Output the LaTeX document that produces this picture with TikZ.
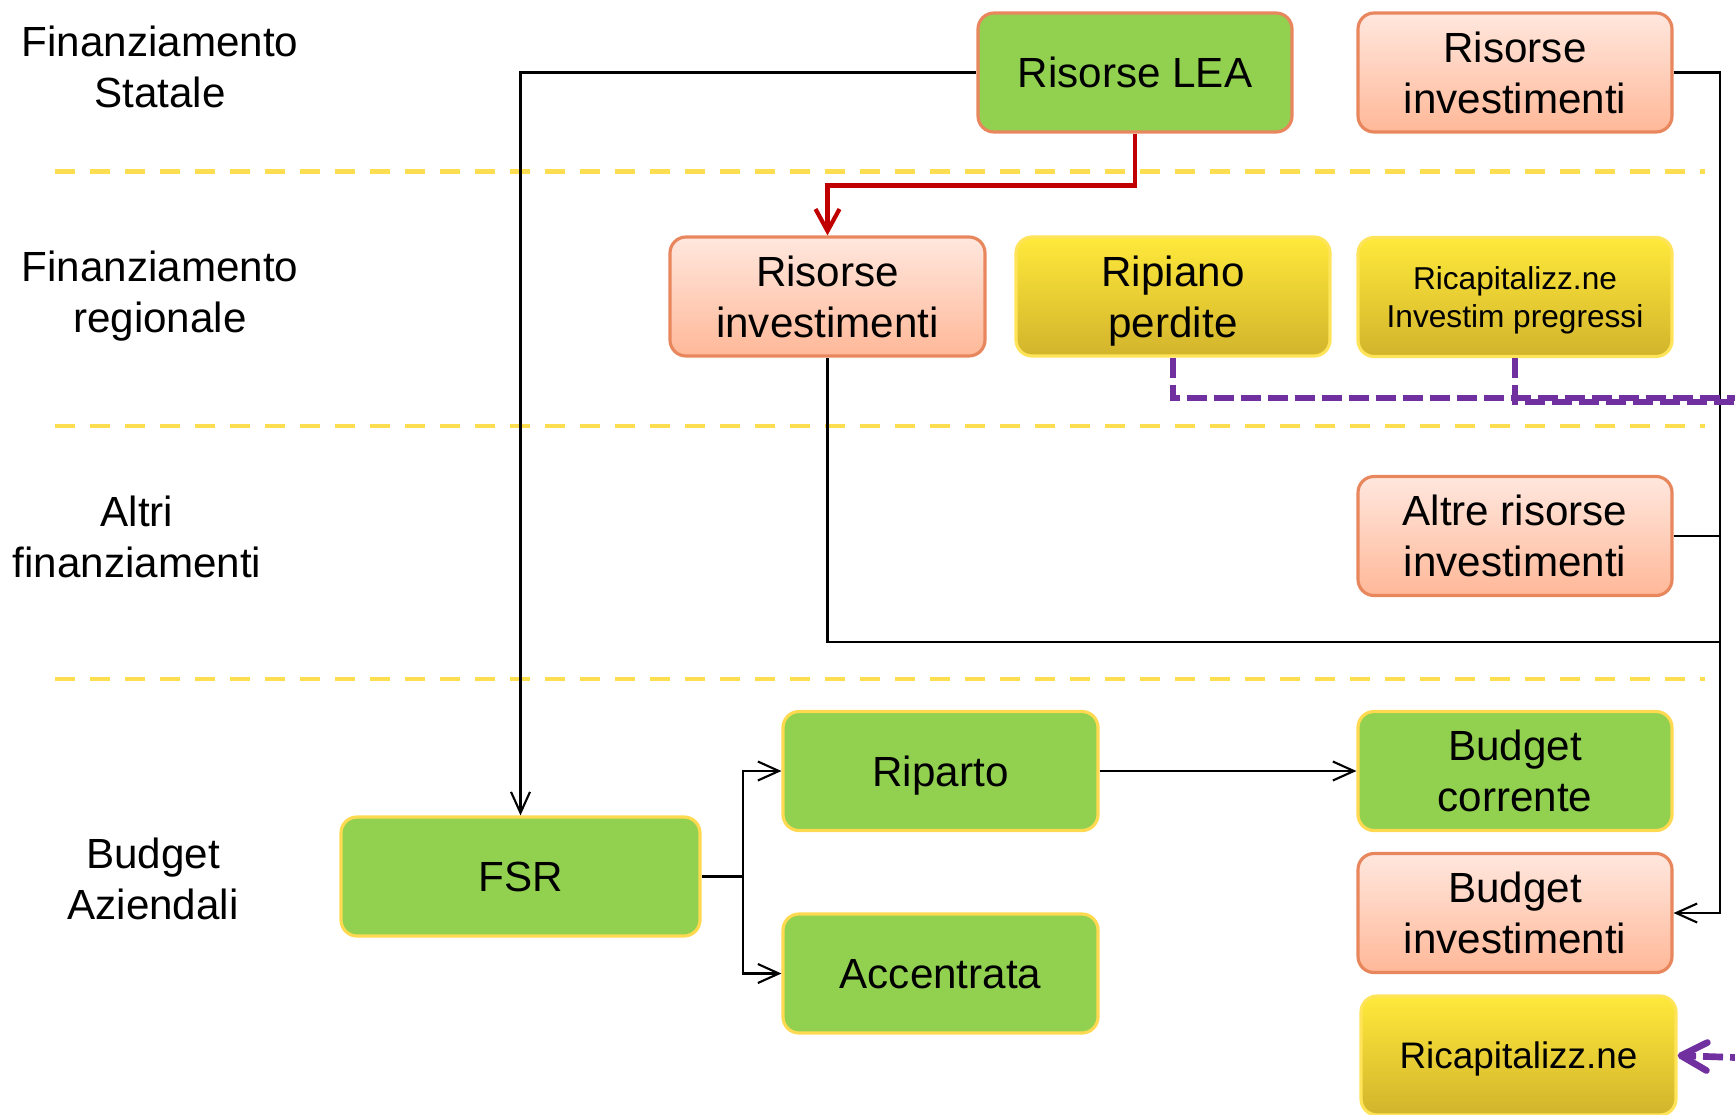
\documentclass[tikz,border=0pt]{standalone}
\usepackage{fontspec}
\setmainfont{Liberation Sans}
\usepackage{xcolor}
\usepackage{tikz}
\usetikzlibrary{positioning,arrows.meta,calc}
\definecolor{okgreen}{RGB}{146,208,80}
\definecolor{rimyellow}{RGB}{255,217,80}
\definecolor{rimorange}{RGB}{232,135,94}
\definecolor{peachtop}{RGB}{255,231,222}
\definecolor{peachbot}{RGB}{255,184,152}
\definecolor{goldtop}{RGB}{255,233,59}
\definecolor{goldbot}{RGB}{210,180,44}
\definecolor{rimgold}{RGB}{255,228,90}
\definecolor{laneyellow}{RGB}{252,222,80}
\definecolor{leared}{RGB}{192,0,0}
\definecolor{recappurple}{RGB}{112,48,160}

\tikzset{
    box/.style={rectangle, rounded corners=0.16cm, minimum width=3.14cm, minimum height=1.19cm,
        inner sep=0pt, align=center, text depth=0pt, line width=0.9pt, font=\fontsize{12}{14.5}\selectfont},
    greenbox/.style={box, fill=okgreen, draw=rimyellow},
    peachbox/.style={box, top color=peachtop, bottom color=peachbot, draw=rimorange},
    goldbox/.style={box, top color=goldtop, bottom color=goldbot, draw=rimgold},
    tier/.style={align=center, font=\fontsize{12}{14.5}\selectfont},
    lane/.style={draw=laneyellow, line width=1.2pt, dash pattern=on 0.2cm off 0.15cm},
    flow/.style={draw=black, line width=0.6pt},
    flowto/.style={flow, -{Straight Barb[length=2.1mm,width=1.9mm,line width=0.6pt]}},
    leaflow/.style={draw=leared, line width=1.2pt, -{Straight Barb[length=2.2mm,width=2.4mm,line width=1.2pt]}},
    recapflow/.style={draw=recappurple, line width=1.9pt, dash pattern=on 0.2cm off 0.07cm},
}

\begin{document}
\begin{tikzpicture}
    \useasboundingbox (0,0) rectangle (17.35,-11.14);

    % Tier labels
    \node[tier] (statale) at (1.60,-0.665) {Finanziamento\\Statale};
    \node[tier] (regionale) at (1.60,-2.96) {Finanziamento\\regionale};
    \node[tier] (altri) at (1.37,-5.365) {Altri\\finanziamenti};
    \node[tier] (aziendali) at (1.53,-8.785) {Budget\\Aziendali};

    % Tier separators
    \foreach \y in {-1.715,-4.26,-6.79} {
        \draw[lane] (0.55,\y) -- (17.05,\y);
    }

    % Boxes
    \node[greenbox, draw=rimorange] (lea) at (11.35,-0.725) {Risorse LEA};
    \node[peachbox] (risinvS) at (15.15,-0.725) {Risorse\\investimenti};
    \node[peachbox, minimum width=3.15cm] (risinvR) at (8.275,-2.965) {Risorse\\investimenti};
    \node[goldbox] (ripiano) at (11.73,-2.965) {Ripiano\\perdite};
    \node[goldbox, font=\fontsize{9}{11}\selectfont] (ricapP) at (15.15,-2.97) {Ricapitalizz.ne\\Investim pregressi};
    \node[peachbox] (altre) at (15.15,-5.36) {Altre risorse\\investimenti};
    \node[greenbox, minimum width=3.59cm] (fsr) at (5.205,-8.765) {FSR};
    \node[greenbox, minimum width=3.15cm] (riparto) at (9.405,-7.71) {Riparto};
    \node[greenbox, minimum width=3.15cm] (accentrata) at (9.405,-9.735) {Accentrata};
    \node[greenbox] (bcorr) at (15.15,-7.71) {Budget\\corrente};
    \node[peachbox] (binv) at (15.15,-9.13) {Budget\\investimenti};
    \node[goldbox, minimum width=3.15cm, font=\fontsize{10.5}{12.5}\selectfont] (ricap) at (15.185,-10.555) {Ricapitalizz.ne};

    % Helper points
    \coordinate (railtop) at (17.20,-0.725);
    \coordinate (joinR) at (17.20,-6.42);
    \coordinate (fork) at ($(fsr.east)+(0.41,0)$);
    \coordinate (recaptop) at (17.50,-3.98);
    \coordinate (recapbot) at (17.50,-10.58);

    % Connectors
    \draw[flowto] (lea.west) -| (fsr.north);
    \draw[leaflow] (lea.south) -- ++(0,-0.52) -| (risinvR.north);
    \draw[flowto] (risinvS.east) -- (railtop) |- (binv.east);
    \draw[flow] (altre.east) -- (altre.east -| railtop);
    \draw[flow] (risinvR.south) |- (joinR);
    \draw[flow] (fsr.east) -- (fork);
    \draw[flowto] (fork) |- (riparto.west);
    \draw[flowto] (fork) |- (accentrata.west);
    \draw[flowto] (riparto.east) -- (bcorr.west);

    % Recapitalisation (dashed)
    \draw[recapflow] (ripiano.south) |- (recaptop);
    \draw[recapflow] (ricapP.south) |- ($(recaptop)+(0,-0.04)$);
    \draw[recapflow, -{Straight Barb[length=2.6mm,width=2.8mm,line width=1.9pt,round]}] (recapbot) -- (ricap.east);
\end{tikzpicture}
\end{document}
